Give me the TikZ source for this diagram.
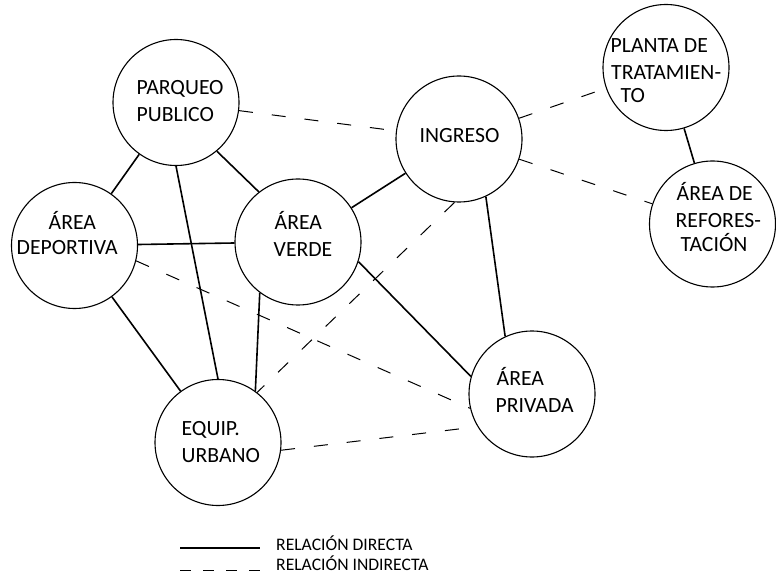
\documentclass[tikz,border=0pt]{standalone}
\usepackage{fontspec}
\setmainfont{Carlito}
\begin{document}
\begin{tikzpicture}[x=1pt,y=-1pt,
  circ/.style={draw=black, line width=1.1pt, circle, minimum size=126pt, inner sep=0pt, fill=white},
  lbl/.style={anchor=base west, inner sep=0pt, text height=14pt, text depth=0pt, font=\fontsize{21.7}{24}\selectfont, text=black},
  leg/.style={anchor=base west, inner sep=0pt, text height=11.5pt, text depth=0pt, font=\fontsize{17.6}{20}\selectfont, text=black},
  direct/.style={line width=1.6pt},
  indirect/.style={line width=1pt, dash pattern=on 14pt off 19pt},
  legdash/.style={line width=1pt, dash pattern=on 11pt off 12pt}]
\useasboundingbox (0,0) rectangle (776,577);
% circles
\node[circ] (pp) at (176,102.5) {};
\node[circ] (ad) at (74.5,245.5) {};
\node[circ] (av) at (298,242) {};
\node[circ] (in) at (459,139) {};
\node[circ] (pt) at (666,67.5) {};
\node[circ] (ar) at (712.5,224) {};
\node[circ] (ap) at (532,394) {};
\node[circ] (eu) at (218,442.5) {};
% direct relations
\draw[direct] (pp) -- (ad);
\draw[direct] (pp.-50) -- (av.128);
\draw[direct] (pp.south) -- (eu.north);
\draw[direct] (ad) -- (av);
\draw[direct] (ad) -- (eu);
\draw[direct] (av.-127) -- (eu.54);
\draw[direct] (av) -- (in);
\draw[direct] (av.-18) -- (ap.164);
\draw[direct] (in.-65) -- (ap.115);
\draw[direct] (pt) -- (ar);
% indirect relations
\draw[indirect] (pp) -- (in);
\draw[indirect] (in) -- (pt);
\draw[indirect] (in) -- (ar);
\draw[indirect] (ad.-14) -- (ap.-167);
\draw[indirect] (in.-94) -- (eu.52);
\draw[indirect] (eu.-7.5) -- (ap.-149);
% labels
\node[lbl] (pp1) at (136.5,95) {PARQUEO};
\node[lbl] (pp2) at (136.5,122) {PUBLICO};
\node[lbl] (ad1) at (48.5,230) {ÁREA};
\node[lbl] (ad2) at (16.5,255) {DEPORTIVA};
\node[lbl] (av1) at (274.5,230) {ÁREA};
\node[lbl] (av2) at (273.5,257) {VERDE};
\node[lbl] (in1) at (419.5,143) {INGRESO};
\node[lbl] (pt1) at (610.5,53) {PLANTA DE};
\node[lbl] (pt2) at (611,80) {TRATAMIEN-};
\node[lbl] (pt3) at (620.5,103) {TO};
\node[lbl] (ar1) at (676.5,201) {ÁREA DE};
\node[lbl] (ar2) at (675.5,228) {REFORES-};
\node[lbl] (ar3) at (680.5,252) {TACIÓN};
\node[lbl] (ap1) at (496.5,385) {ÁREA};
\node[lbl] (ap2) at (495.5,412) {PRIVADA};
\node[lbl] (eu1) at (181.5,435) {EQUIP.};
\node[lbl] (eu2) at (181.5,462) {URBANO};
% legend
\coordinate (l1a) at (180,548);
\coordinate (l1b) at (260,548);
\coordinate (l2a) at (180,570);
\coordinate (l2b) at (260,570);
\draw[direct] (l1a) -- (l1b);
\draw[legdash] (l2a) -- (l2b);
\node[leg] (lt1) at (276,550) {RELACIÓN DIRECTA};
\node[leg] (lt2) at (276,570.5) {RELACIÓN INDIRECTA};
\end{tikzpicture}
\end{document}
